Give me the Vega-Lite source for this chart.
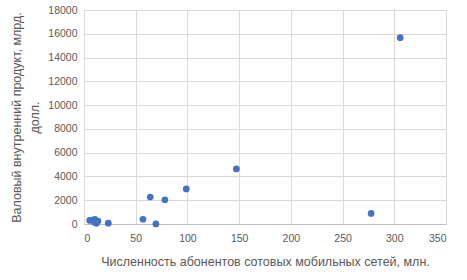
{
  "$schema": "https://vega.github.io/schema/vega-lite/v6.json",
  "autosize": {"type": "none"},
  "padding": {"left": 84, "top": 10, "right": 21, "bottom": 56},
  "width": 362,
  "height": 214,
  "background": "white",
  "data": {"values": [
    {"x": 305.7, "y": 15670},
    {"x": 277.6, "y": 890},
    {"x": 147.3, "y": 4630},
    {"x": 98.9, "y": 2950},
    {"x": 78.2, "y": 2040},
    {"x": 64, "y": 2270},
    {"x": 57, "y": 400},
    {"x": 69.5, "y": 10},
    {"x": 23.5, "y": 70},
    {"x": 5.5, "y": 300},
    {"x": 8.5, "y": 330},
    {"x": 10.5, "y": 400},
    {"x": 12, "y": 60},
    {"x": 13.5, "y": 250},
    {"x": 10, "y": 150}
  ]},
  "config": {
    "view": {"stroke": null},
    "axis": {
      "labelFont": "Liberation Sans",
      "titleFont": "Liberation Sans",
      "labelFontSize": 10.5,
      "titleFontSize": 12.5,
      "labelColor": "#595959",
      "titleColor": "#595959",
      "titleFontWeight": "normal",
      "gridColor": "#d9d9d9",
      "ticks": false,
      "format": "d"
    }
  },
  "mark": {"type": "point", "filled": true, "opacity": 1, "size": 45, "color": "#4472C4"},
  "encoding": {
    "x": {
      "field": "x", "type": "quantitative",
      "scale": {"domain": [0, 350], "nice": false},
      "axis": {
        "values": [0, 50, 100, 150, 200, 250, 300, 350],
        "title": "Численность абонентов сотовых мобильных сетей, млн.",
        "domainColor": "#bfbfbf",
        "labelPadding": 9,
        "titlePadding": 12
      }
    },
    "y": {
      "field": "y", "type": "quantitative",
      "scale": {"domain": [0, 18000], "nice": false},
      "axis": {
        "values": [0, 2000, 4000, 6000, 8000, 10000, 12000, 14000, 16000, 18000],
        "title": ["Валовый внутренний продукт, млрд.", "долл."],
        "titleLineHeight": 18,
        "domain": false,
        "labelPadding": 7,
        "titlePadding": 6
      }
    }
  }
}
